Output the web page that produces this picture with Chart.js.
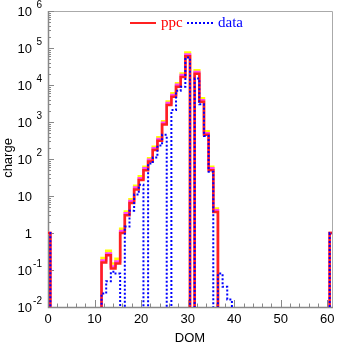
<!DOCTYPE html>
<html>
<head>
<meta charset="utf-8">
<script src="https://cdn.jsdelivr.net/npm/chart.js@4.4.0/dist/chart.umd.min.js"></script>
<style>
    html, body { margin: 0; padding: 0; background: #ffffff; }
    #grafico { display: block; }
</style>
</head>
<body>
<canvas id="grafico" width="337" height="344"></canvas>
<script>
// bins (DOM number) that carry something; every other bin is empty
const domBins = [0, 12, 13, 14, 15, 16, 17, 18, 19, 20, 21, 22, 23, 24, 25, 26, 27, 28, 29, 30, 31, 32, 33, 34, 35, 36, 37, 38, 39, 61];
const ppc     = [1, 0.16, 0.25, 0.11, 0.15, 1.0, 3.0, 6.5, 15, 27, 50, 85, 175, 310, 850, 2900, 4800, 9000, 16500, 60000, 0, 20000, 3500, 450, 50, 3.7, 0, 0, 0, 1];
const ppcMeio = [1, 0.18, 0.28, 0.125, 0.17, 1.13, 3.4, 7.3, 17, 30, 56, 95, 195, 345, 950, 3250, 5400, 10100, 18500, 67000, 0, 22400, 3900, 500, 56, 4.15, 0, 0, 0, 1];
const ppcAlto = [1, 0.21, 0.33, 0.15, 0.2, 1.3, 3.8, 8.2, 19, 34, 62, 105, 215, 385, 1050, 3600, 6000, 11200, 20500, 75000, 0, 25000, 4400, 560, 62, 4.6, 0, 0, 0, 1];
const dados   = [1, 0.023, 0.05, 0.09, 0.08, 0, 1.5, 4, 11, 20, 0, 75, 110, 230, 450, 0, 2100, 7000, 9000, 55000, 0, 15000, 3000, 420, 45, 0, 0.08, 0.035, 0.016, 1];

const expoentesY = [-2, -1, 0, 1, 2, 3, 4, 5, 6];
const ticksX = [0, 10, 20, 30, 40, 50, 60];
const domMax = 61;

function montarDegraus(bins, valores) {
    // each bin spans [dom-0.5, dom+0.5]; empty bins are sent far below the axis
    const mapa = {};
    bins.forEach((bin, i) => { mapa[bin] = valores[i]; });
    const pontos = [];
    for (let dom = 0; dom <= domMax; dom++) {
        const v = mapa[dom] > 0 ? mapa[dom] : 1e-4;
        pontos.push({ x: dom - 0.5, y: v }, { x: dom + 0.5, y: v });
    }
    return pontos;
}

function serie(valores, cor, largura, ordem, tracejado = []) {
    return {
        data: montarDegraus(domBins, valores),
        borderColor: cor,
        borderWidth: largura,
        borderDash: tracejado,
        pointRadius: 0,
        fill: false,
        tension: 0,
        order: ordem,
        clip: { left: 0, top: 6, right: 0, bottom: 0 }
    };
}

const eixos = {
    id: 'eixos',
    beforeDatasetsDraw(chart) {
        const { ctx, chartArea: a, scales: { x, y } } = chart;
        ctx.save();
        ctx.strokeStyle = '#aaaaaa';
        ctx.lineWidth = 1;
        ctx.beginPath();
        ctx.moveTo(a.left, a.top + 0.5);
        ctx.lineTo(a.right + 0.5, a.top + 0.5);
        ctx.lineTo(a.right + 0.5, a.bottom);
        ctx.stroke();

        ctx.strokeStyle = '#888888';
        ctx.lineWidth = 1.5;
        ctx.beginPath();
        ctx.moveTo(a.left + 0.5, a.top);
        ctx.lineTo(a.left + 0.5, a.bottom + 0.5);
        ctx.lineTo(a.right + 1, a.bottom + 0.5);
        ctx.stroke();

        ctx.lineWidth = 1;
        ctx.beginPath();
        expoentesY.forEach(e => {
            const py = Math.round(y.getPixelForValue(Math.pow(10, e))) + 0.5;
            ctx.moveTo(a.left, py);
            ctx.lineTo(a.left + 6, py);
            if (e === 6) return;
            for (let m = 2; m <= 9; m++) {
                const pm = Math.round(y.getPixelForValue(m * Math.pow(10, e))) + 0.5;
                ctx.moveTo(a.left, pm);
                ctx.lineTo(a.left + 3, pm);
            }
        });
        for (let d = 0; d <= 60; d += 2) {
            const px = Math.round(x.getPixelForValue(d)) + 0.5;
            const comp = d % 10 === 0 ? 7 : 3.5;
            ctx.moveTo(px, a.bottom);
            ctx.lineTo(px, a.bottom - comp);
        }
        ctx.stroke();
        ctx.restore();
    },
    afterDraw(chart) {
        const { ctx, chartArea: a, scales: { x, y } } = chart;
        ctx.save();
        ctx.fillStyle = '#000000';
        ctx.textBaseline = 'middle';

        expoentesY.forEach(e => {
            const py = y.getPixelForValue(Math.pow(10, e));
            ctx.font = '13px "Liberation Sans", Arial, sans-serif';
            ctx.textAlign = 'right';
            if (e === 0) { ctx.fillText('1', 32, py + 1); return; }
            ctx.fillText('10', 32, py + 1);
            if (e === 1) return;
            ctx.font = '10px "Liberation Sans", Arial, sans-serif';
            ctx.fillText(String(e), 42, py - 6);
        });

        ctx.font = '13px "Liberation Sans", Arial, sans-serif';
        ctx.textAlign = 'center';
        ticksX.forEach(d => ctx.fillText(String(d), x.getPixelForValue(d), a.bottom + 12));
        ctx.fillText('DOM', (a.left + a.right) / 2, a.bottom + 31);

        ctx.save();
        ctx.translate(8, 158);
        ctx.rotate(-Math.PI / 2);
        ctx.fillText('charge', 0, 0);
        ctx.restore();

        // legenda
        ctx.lineWidth = 2;
        ctx.strokeStyle = '#ff2020';
        ctx.beginPath();
        ctx.moveTo(130, 23);
        ctx.lineTo(156, 23);
        ctx.stroke();
        ctx.strokeStyle = '#0000ff';
        ctx.setLineDash([2, 2]);
        ctx.beginPath();
        ctx.moveTo(187, 23);
        ctx.lineTo(213, 23);
        ctx.stroke();
        ctx.setLineDash([]);
        ctx.font = '15px "Liberation Serif", "Times New Roman", serif';
        ctx.textAlign = 'left';
        ctx.textBaseline = 'alphabetic';
        ctx.fillStyle = '#ff0000';
        ctx.fillText('ppc', 161, 27);
        ctx.fillStyle = '#0000ff';
        ctx.fillText('data', 218, 27);
        ctx.restore();
    }
};

new Chart(document.getElementById('grafico'), {
    type: 'line',
    data: {
        datasets: [
            serie(ppcAlto, '#ffff00', 2.5, 4),
            serie(ppcMeio, '#ff40ff', 2.5, 3),
            serie(ppc, '#ff2020', 2.5, 2),
            serie(dados, '#0000ff', 2, 1, [2, 2])
        ]
    },
    options: {
        responsive: false,
        animation: false,
        layout: { padding: { left: 48, top: 11, right: 5, bottom: 37 } },
        plugins: { legend: { display: false }, tooltip: { enabled: false } },
        scales: {
            x: { type: 'linear', min: 0, max: domMax, display: false },
            y: { type: 'logarithmic', min: 0.01, max: 1e6, display: false }
        }
    },
    plugins: [eixos]
});
</script>
</body>
</html>
